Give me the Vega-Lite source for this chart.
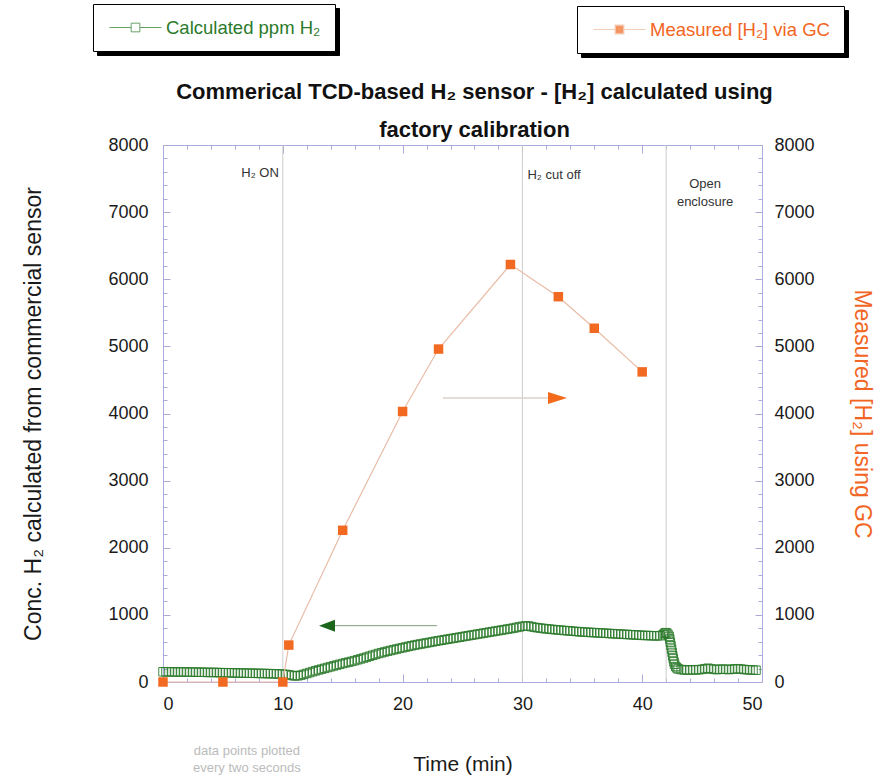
{
  "$schema": "https://vega.github.io/schema/vega-lite/v6.json",
  "width": 599,
  "height": 537,
  "autosize": {"type": "none"},
  "padding": {"left": 163, "top": 145, "right": 123, "bottom": 96},
  "background": "white",
  "config": {
    "font": "Liberation Sans",
    "view": {"stroke": "#aaaadd", "strokeWidth": 1},
    "axis": {"labelFont": "Liberation Sans", "titleFont": "Liberation Sans", "labelFontSize": 18, "titleFontSize": 21, "titleFontWeight": "normal", "labelColor": "#1a1a1a", "titleColor": "#1a1a1a", "grid": false}
  },
  "title": {
    "text": ["Commerical TCD-based H₂ sensor - [H₂] calculated using", "factory calibration"],
    "font": "Liberation Sans", "fontSize": 22, "fontWeight": "bold", "color": "#111111",
    "anchor": "middle", "frame": "group", "baseline": "bottom", "offset": -160, "lineHeight": 38, "dx": 12
  },
  "datasets": {
    "sensor": [
      {"t":0,"c":152},{"t":0.25,"c":151},{"t":0.5,"c":153},{"t":0.75,"c":150},{"t":1,"c":150},{"t":1.25,"c":149},{"t":1.5,"c":151},{"t":1.75,"c":149},
      {"t":2,"c":148},{"t":2.25,"c":147},{"t":2.5,"c":148},{"t":2.75,"c":146},{"t":3,"c":145},{"t":3.25,"c":146},{"t":3.5,"c":144},{"t":3.75,"c":143},
      {"t":4,"c":142},{"t":4.25,"c":143},{"t":4.5,"c":141},{"t":4.75,"c":139},{"t":5,"c":139},{"t":5.25,"c":138},{"t":5.5,"c":137},{"t":5.75,"c":137},
      {"t":6,"c":135},{"t":6.25,"c":134},{"t":6.5,"c":134},{"t":6.75,"c":132},{"t":7,"c":131},{"t":7.25,"c":131},{"t":7.5,"c":130},{"t":7.75,"c":129},
      {"t":8,"c":128},{"t":8.25,"c":127},{"t":8.5,"c":126},{"t":8.75,"c":125},{"t":9,"c":124},{"t":9.25,"c":122},{"t":9.5,"c":121},{"t":9.75,"c":119},
      {"t":10,"c":117},{"t":10.25,"c":113},{"t":10.5,"c":107},{"t":10.75,"c":98},{"t":11,"c":90},{"t":11.25,"c":92},{"t":11.5,"c":102},{"t":11.75,"c":114},
      {"t":12,"c":127},{"t":12.25,"c":141},{"t":12.5,"c":155},{"t":12.75,"c":168},{"t":13,"c":180},{"t":13.25,"c":192},{"t":13.5,"c":204},{"t":13.75,"c":216},
      {"t":14,"c":228},{"t":14.25,"c":240},{"t":14.5,"c":252},{"t":14.75,"c":263},{"t":15,"c":275},{"t":15.25,"c":286},{"t":15.5,"c":296},{"t":15.75,"c":307},
      {"t":16,"c":318},{"t":16.25,"c":331},{"t":16.5,"c":344},{"t":16.75,"c":357},{"t":17,"c":370},{"t":17.25,"c":384},{"t":17.5,"c":398},{"t":17.75,"c":411},
      {"t":18,"c":425},{"t":18.25,"c":436},{"t":18.5,"c":448},{"t":18.75,"c":459},{"t":19,"c":470},{"t":19.25,"c":480},{"t":19.5,"c":491},{"t":19.75,"c":501},
      {"t":20,"c":511},{"t":20.25,"c":521},{"t":20.5,"c":531},{"t":20.75,"c":540},{"t":21,"c":550},{"t":21.25,"c":558},{"t":21.5,"c":566},{"t":21.75,"c":574},
      {"t":22,"c":582},{"t":22.25,"c":590},{"t":22.5,"c":598},{"t":22.75,"c":607},{"t":23,"c":615},{"t":23.25,"c":622},{"t":23.5,"c":630},{"t":23.75,"c":637},
      {"t":24,"c":645},{"t":24.25,"c":652},{"t":24.5,"c":660},{"t":24.75,"c":667},{"t":25,"c":675},{"t":25.25,"c":683},{"t":25.5,"c":690},{"t":25.75,"c":698},
      {"t":26,"c":705},{"t":26.25,"c":713},{"t":26.5,"c":720},{"t":26.75,"c":728},{"t":27,"c":735},{"t":27.25,"c":743},{"t":27.5,"c":750},{"t":27.75,"c":758},
      {"t":28,"c":765},{"t":28.25,"c":773},{"t":28.5,"c":780},{"t":28.75,"c":788},{"t":29,"c":795},{"t":29.25,"c":803},{"t":29.5,"c":812},{"t":29.75,"c":821},
      {"t":30,"c":830},{"t":30.25,"c":834},{"t":30.5,"c":835},{"t":30.75,"c":825},{"t":31,"c":815},{"t":31.25,"c":809},{"t":31.5,"c":803},{"t":31.75,"c":797},
      {"t":32,"c":792},{"t":32.25,"c":788},{"t":32.5,"c":783},{"t":32.75,"c":779},{"t":33,"c":775},{"t":33.25,"c":771},{"t":33.5,"c":767},{"t":33.75,"c":764},
      {"t":34,"c":760},{"t":34.25,"c":756},{"t":34.5,"c":752},{"t":34.75,"c":749},{"t":35,"c":745},{"t":35.25,"c":743},{"t":35.5,"c":740},{"t":35.75,"c":738},
      {"t":36,"c":735},{"t":36.25,"c":733},{"t":36.5,"c":730},{"t":36.75,"c":728},{"t":37,"c":725},{"t":37.25,"c":723},{"t":37.5,"c":720},{"t":37.75,"c":718},
      {"t":38,"c":715},{"t":38.25,"c":713},{"t":38.5,"c":710},{"t":38.75,"c":708},{"t":39,"c":705},{"t":39.25,"c":703},{"t":39.5,"c":700},{"t":39.75,"c":698},
      {"t":40,"c":695},{"t":40.25,"c":693},{"t":40.5,"c":692},{"t":40.75,"c":690},{"t":41,"c":688},{"t":41.25,"c":687},{"t":41.5,"c":690},{"t":41.75,"c":705},
      {"t":41.85,"c":725},{"t":41.95,"c":735},{"t":42.05,"c":730},{"t":42.15,"c":710},{"t":42.25,"c":680},{"t":42.3,"c":640},{"t":42.35,"c":590},{"t":42.4,"c":540},
      {"t":42.45,"c":490},{"t":42.5,"c":440},{"t":42.55,"c":390},{"t":42.6,"c":345},{"t":42.65,"c":300},{"t":42.7,"c":265},{"t":42.8,"c":230},{"t":42.9,"c":210},
      {"t":43,"c":195},{"t":43.25,"c":185},{"t":43.5,"c":180},{"t":43.75,"c":178},{"t":44,"c":180},{"t":44.25,"c":182},{"t":44.5,"c":180},{"t":44.75,"c":184},
      {"t":45,"c":188},{"t":45.25,"c":198},{"t":45.5,"c":205},{"t":45.75,"c":195},{"t":46,"c":188},{"t":46.25,"c":185},{"t":46.5,"c":190},{"t":46.75,"c":192},
      {"t":47,"c":188},{"t":47.25,"c":185},{"t":47.5,"c":190},{"t":47.75,"c":195},{"t":48,"c":198},{"t":48.25,"c":192},{"t":48.5,"c":186},{"t":48.75,"c":183},
      {"t":49,"c":180},{"t":49.25,"c":178},{"t":49.5,"c":176}
    ],
    "gc": [
      {"t":0,"g":0},{"t":5,"g":0},{"t":10,"g":0},{"t":10.5,"g":550},{"t":15,"g":2260},{"t":20,"g":4030},
      {"t":23,"g":4960},{"t":29,"g":6220},{"t":33,"g":5740},{"t":36,"g":5270},{"t":40,"g":4620}
    ],
    "events": [{"t":10},{"t":30},{"t":42}]
  },
  "layer": [
    {
      "data": {"name": "events"},
      "mark": {"type": "rule", "color": "#cccccc", "strokeWidth": 1},
      "encoding": {
        "x": {"field": "t", "type": "quantitative", "scale": {"domain": [0, 50], "nice": false, "zero": false},
          "axis": {"orient": "bottom", "ticks": false, "domain": false, "values": [0,10,20,30,40,50], "labelPadding": 13, "title": "Time (min)", "titlePadding": 40}}
      }
    },
    {
      "data": {"name": "gc"},
      "mark": {"type": "point", "opacity": 0},
      "encoding": {
        "x": {"field": "t", "type": "quantitative", "scale": {"domain": [0, 50], "nice": false, "zero": false},
          "axis": {"orient": "bottom", "labels": false, "domain": false, "title": null, "values": [0,2,4,6,8,10,12,14,16,18,20,22,24,26,28,30,32,34,36,38,40,42,44,46,48,50],
            "tickColor": "#aaaadd", "tickSize": {"condition": {"test": "datum.value % 10 === 0", "value": -8}, "value": -4}}},
        "y": {"field": "g", "type": "quantitative", "scale": {"domain": [0, 8000], "nice": false, "zero": false},
          "axis": {"orient": "left", "labels": false, "domain": false, "title": null, "values": [0,200,400,600,800,1000,1200,1400,1600,1800,2000,2200,2400,2600,2800,3000,3200,3400,3600,3800,4000,4200,4400,4600,4800,5000,5200,5400,5600,5800,6000,6200,6400,6600,6800,7000,7200,7400,7600,7800,8000],
            "tickColor": "#aaaadd", "tickSize": {"condition": {"test": "datum.value % 1000 === 0", "value": -7}, "value": -4}}}
      }
    },
    {
      "data": {"name": "gc"},
      "mark": {"type": "point", "opacity": 0},
      "encoding": {
        "x": {"field": "t", "type": "quantitative",
          "axis": {"orient": "top", "labels": false, "domain": false, "title": null, "values": [0,2,4,6,8,10,12,14,16,18,20,22,24,26,28,30,32,34,36,38,40,42,44,46,48,50],
            "tickColor": "#aaaadd", "tickSize": {"condition": {"test": "datum.value % 10 === 0", "value": -8}, "value": -4}}},
        "y": {"field": "g", "type": "quantitative",
          "axis": {"orient": "right", "labels": false, "domain": false, "title": null, "values": [0,200,400,600,800,1000,1200,1400,1600,1800,2000,2200,2400,2600,2800,3000,3200,3400,3600,3800,4000,4200,4400,4600,4800,5000,5200,5400,5600,5800,6000,6200,6400,6600,6800,7000,7200,7400,7600,7800,8000],
            "tickColor": "#aaaadd", "tickSize": {"condition": {"test": "datum.value % 1000 === 0", "value": -7}, "value": -4}}}
      }
    },
    {
      "data": {"values": [{"a": 23.37, "b": 32.4, "v": 4232}]},
      "mark": {"type": "rule", "color": "#ddd2cb", "strokeWidth": 1.5},
      "encoding": {
        "x": {"field": "a", "type": "quantitative", "axis": null},
        "x2": {"field": "b"},
        "y": {"field": "v", "type": "quantitative", "axis": null}
      }
    },
    {
      "data": {"values": [{"a": 13.9, "b": 22.87, "v": 839}]},
      "mark": {"type": "rule", "color": "#7e9f7e", "strokeWidth": 1},
      "encoding": {
        "x": {"field": "a", "type": "quantitative", "axis": null},
        "x2": {"field": "b"},
        "y": {"field": "v", "type": "quantitative", "axis": null}
      }
    },
    {
      "data": {"values": [{"t": 32.93, "v": 4232}]},
      "mark": {"type": "point", "shape": "M1,0L-1,-0.63L-1,0.63Z", "size": 361, "filled": true, "color": "#f26b1d", "opacity": 1},
      "encoding": {
        "x": {"field": "t", "type": "quantitative", "axis": null},
        "y": {"field": "v", "type": "quantitative", "axis": null}
      }
    },
    {
      "data": {"values": [{"t": 13.69, "v": 839}]},
      "mark": {"type": "point", "shape": "M-1,0L1,-0.75L1,0.75Z", "size": 256, "filled": true, "color": "#1c661c", "opacity": 1},
      "encoding": {
        "x": {"field": "t", "type": "quantitative", "axis": null},
        "y": {"field": "v", "type": "quantitative", "axis": null}
      }
    },
    {
      "data": {"name": "sensor"},
      "mark": {"type": "point", "shape": "square", "filled": false, "size": 72, "strokeWidth": 0.9},
      "encoding": {
        "x": {"field": "t", "type": "quantitative", "axis": null},
        "y": {"field": "c", "type": "quantitative",
          "axis": {"orient": "left", "ticks": false, "domain": false, "values": [0,1000,2000,3000,4000,5000,6000,7000,8000], "format": "d", "labelPadding": 15,
            "title": "Conc. H₂ calculated from commercial sensor", "titleFontSize": 23, "titlePadding": 62}},
        "stroke": {"datum": "calc", "type": "nominal", "scale": {"range": ["#2b7a2b"]},
          "legend": {"title": null, "orient": "none", "legendX": -70, "legendY": -141, "direction": "horizontal", "labelExpr": "'Calculated ppm H₂'", "zindex": 2,
            "symbolType": "M-3,0H-0.5M0.5,0H3M-0.5,-0.5H0.5V0.5H-0.5Z", "symbolSize": 300, "symbolStrokeWidth": 1, "symbolFillColor": "transparent",
            "symbolOffset": 19, "labelOffset": 21, "labelFont": "Liberation Sans", "labelFontSize": 18.5, "labelColor": "#2b7a2b", "labelLimit": 300,
            "padding": 14, "strokeColor": "#000000", "fillColor": "#ffffff"}},
        "opacity": {"datum": "calcshadow", "type": "ordinal", "scale": {"range": [0.85]},
          "legend": {"title": null, "orient": "none", "legendX": -66, "legendY": -137, "direction": "horizontal", "labelExpr": "'Calculated ppm H₂'", "zindex": 1,
            "symbolType": "M-3,0H-0.5M0.5,0H3M-0.5,-0.5H0.5V0.5H-0.5Z", "symbolSize": 300, "symbolStrokeWidth": 1, "symbolFillColor": "#000000", "symbolStrokeColor": "#000000",
            "symbolOffset": 19, "labelOffset": 21, "labelFont": "Liberation Sans", "labelFontSize": 18.5, "labelColor": "#000000", "labelLimit": 300,
            "padding": 14, "strokeColor": "#000000", "fillColor": "#000000"}}
      }
    },
    {
      "data": {"name": "gc"},
      "mark": {"type": "line", "color": "#e9bca6", "strokeWidth": 1.2},
      "encoding": {
        "x": {"field": "t", "type": "quantitative", "axis": null},
        "y": {"field": "g", "type": "quantitative", "axis": null}
      }
    },
    {
      "data": {"name": "gc"},
      "mark": {"type": "point", "shape": "square", "filled": true, "size": 90},
      "encoding": {
        "x": {"field": "t", "type": "quantitative", "axis": null},
        "y": {"field": "g", "type": "quantitative",
          "axis": {"orient": "right", "ticks": false, "domain": false, "values": [0,1000,2000,3000,4000,5000,6000,7000,8000], "format": "d", "labelPadding": 12,
            "title": "Measured [H₂] using GC", "titleColor": "#f26522", "titleFontSize": 23, "titlePadding": 35}},
        "fill": {"datum": "gc", "type": "nominal", "scale": {"range": ["#f26a21"]},
          "legend": {"title": null, "orient": "none", "legendX": 414, "legendY": -139, "direction": "horizontal", "labelExpr": "'Measured [H₂] via GC'", "zindex": 2,
            "symbolType": "M-3,0H-0.5M0.5,0H3M-0.5,-0.5H0.5V0.5H-0.5Z", "symbolSize": 300, "symbolStrokeWidth": 1.2, "symbolStrokeColor": "#f0b898",
            "symbolOffset": 19, "labelOffset": 21, "labelFont": "Liberation Sans", "labelFontSize": 18.5, "labelColor": "#f26522", "labelLimit": 300,
            "padding": 14, "strokeColor": "#000000", "fillColor": "#ffffff"}},
        "opacity": {"datum": "gcshadow", "type": "ordinal", "scale": {"range": [1]},
          "legend": {"title": null, "orient": "none", "legendX": 418, "legendY": -135, "direction": "horizontal", "labelExpr": "'Measured [H₂] via GC'", "zindex": 1,
            "symbolType": "M-3,0H-0.5M0.5,0H3M-0.5,-0.5H0.5V0.5H-0.5Z", "symbolSize": 300, "symbolStrokeWidth": 1.2, "symbolFillColor": "#000000", "symbolStrokeColor": "#000000",
            "symbolOffset": 19, "labelOffset": 21, "labelFont": "Liberation Sans", "labelFontSize": 18.5, "labelColor": "#000000", "labelLimit": 300,
            "padding": 14, "strokeColor": "#000000", "fillColor": "#000000"}}
      }
    },
    {
      "data": {"values": [{"t": 10, "v": 7586, "label": "H₂ ON"}]},
      "mark": {"type": "text", "align": "right", "baseline": "middle", "dx": -4, "fontSize": 13, "color": "#333333"},
      "encoding": {
        "x": {"field": "t", "type": "quantitative", "axis": null},
        "y": {"field": "v", "type": "quantitative", "axis": null},
        "text": {"field": "label"}
      }
    },
    {
      "data": {"values": [{"t": 30, "v": 7556, "label": "H₂ cut off"}]},
      "mark": {"type": "text", "align": "left", "baseline": "middle", "dx": 5, "fontSize": 13, "color": "#333333"},
      "encoding": {
        "x": {"field": "t", "type": "quantitative", "axis": null},
        "y": {"field": "v", "type": "quantitative", "axis": null},
        "text": {"field": "label"}
      }
    },
    {
      "data": {"values": [{"t": 45.25, "v": 7422, "label": "Open\nenclosure"}]},
      "mark": {"type": "text", "align": "center", "baseline": "middle", "lineBreak": "\n", "lineHeight": 18, "fontSize": 13, "color": "#333333"},
      "encoding": {
        "x": {"field": "t", "type": "quantitative", "axis": null},
        "y": {"field": "v", "type": "quantitative", "axis": null},
        "text": {"field": "label"}
      }
    },
    {
      "data": {"values": [{"t": 7.0, "v": -1028, "label": "data points plotted\nevery two seconds"}]},
      "mark": {"type": "text", "align": "center", "baseline": "middle", "lineBreak": "\n", "lineHeight": 17, "fontSize": 13, "color": "#bbbbbb"},
      "encoding": {
        "x": {"field": "t", "type": "quantitative", "axis": null},
        "y": {"field": "v", "type": "quantitative", "axis": null},
        "text": {"field": "label"}
      }
    }
  ],
  "resolve": {"axis": {"x": "independent", "y": "independent"}, "scale": {"opacity": "independent"}, "legend": {"opacity": "independent"}}
}
